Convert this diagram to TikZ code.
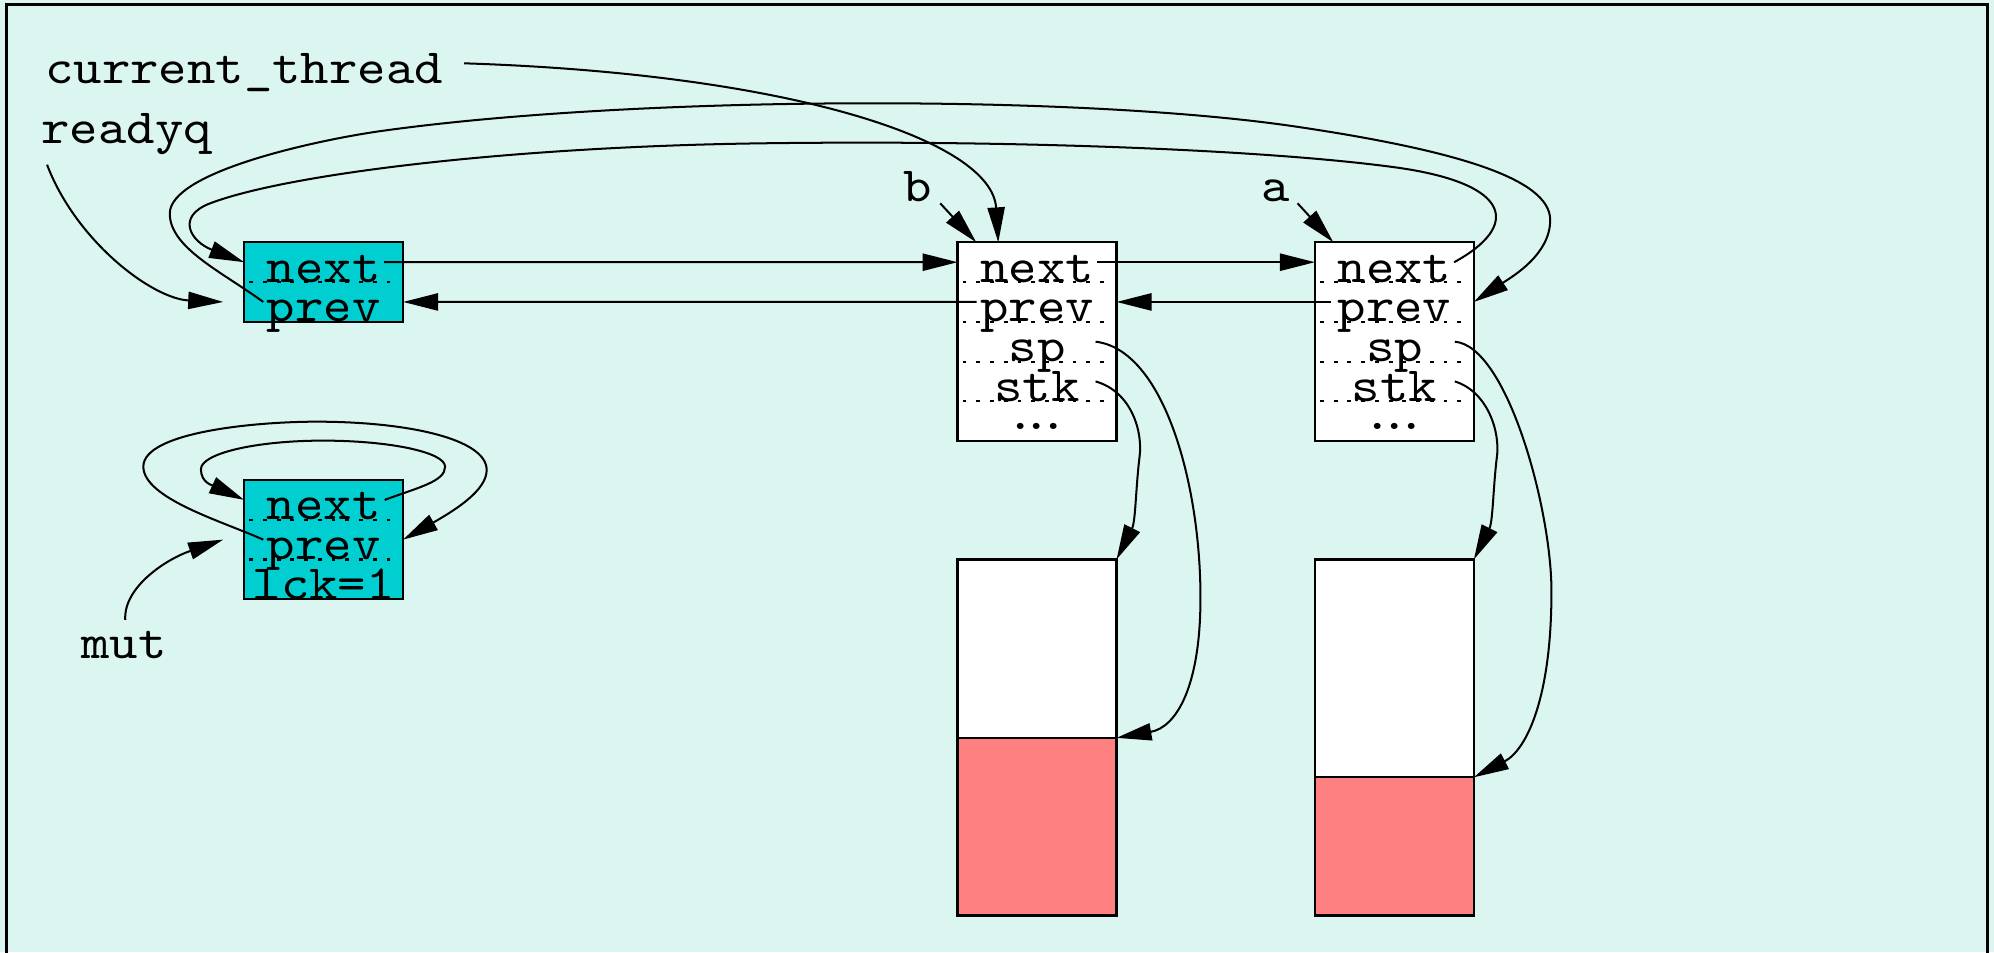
\documentclass[tikz,border=0pt]{standalone}
\usepackage{fontspec}
\usepackage{tikz}
\usetikzlibrary{arrows.meta,positioning,calc}
\newfontfamily\recfont{lmmono10-regular}[Extension=.otf,FakeStretch=1.1]
\newcommand{\rectt}{\recfont\fontsize{11pt}{13pt}\selectfont}
\definecolor{paper}{RGB}{219,245,240}
\definecolor{cellcyan}{RGB}{0,206,209}
\definecolor{stackred}{RGB}{255,128,128}
\tikzset{
    field/.style={
        font=\rectt,
        fill=white,
        minimum width=12.5mm,
        inner sep=0pt,
        outer sep=0pt,
        text height=3.125mm,
        text depth=0pt
    },
    cell/.style={field, fill=cellcyan},
    rec/.style={draw, line width=0.5pt},
    sep/.style={line width=0.45pt, dash pattern=on 0.3mm off 0.78mm,
        shorten <=0.4mm, shorten >=0.5mm},
    tag/.style={font=\rectt, inner sep=0pt},
    stkfree/.style={
        draw,
        line width=0.5pt,
        fill=white,
        minimum width=12.5mm,
        inner sep=0pt,
        outer sep=0pt
    },
    stkused/.style={stkfree, fill=stackred},
    link/.style={-{Triangle[length=2.75mm,width=1.35mm]}, line width=0.45pt}
}

\begin{document}
\begin{tikzpicture}[x=1mm, y=-1mm, node distance=0pt]
    \fill[paper] (0,0) rectangle (156.8,74.9);
    \useasboundingbox (0,0) rectangle (156.8,74.9);
    \draw[line width=0.6pt] (0.52,76) -- (0.52,0.37) -- (156.3,0.37) -- (156.3,76);

    \node[tag, anchor=base west] (cur) at (3.5,6.55) {current\_thread};
    \node[tag, anchor=base west] (readyq) at (3.2,11.3) {readyq};
    \node[tag, anchor=base] (blbl) at (72.2,15.86) {b};
    \node[tag, anchor=base] (albl) at (100.3,15.86) {a};
    \node[tag, anchor=base] (mutlbl) at (9.75,51.75) {mut};

    \node[cell] (qprev) at (25.45,23.745) {prev};
    \node[cell, above=of qprev] (qnext) {next};

    \node[cell] (mlck) at (25.45,45.56) {lck=1};
    \node[cell, above=of mlck] (mprev) {prev};
    \node[cell, above=of mprev] (mnext) {next};

    \node[field, text height=2.225mm, text depth=0.9mm] (bmore) at (81.55,33.12) {.\kern-2.6pt.\kern-2.6pt.};
    \node[field, above=of bmore] (bstk) {stk};
    \node[field, above=of bstk] (bsp) {sp};
    \node[field, above=of bsp] (bprev) {prev};
    \node[field, above=of bprev] (bnext) {next};

    \node[field, text height=2.225mm, text depth=0.9mm] (amore) at (109.65,33.12) {.\kern-2.6pt.\kern-2.6pt.};
    \node[field, above=of amore] (astk) {stk};
    \node[field, above=of astk] (asp) {sp};
    \node[field, above=of asp] (aprev) {prev};
    \node[field, above=of aprev] (anext) {next};

    \draw[sep] (qnext.south west) -- (qnext.south east);
    \draw[rec] (qnext.north west) rectangle (qprev.south east);
    \draw[sep] (mnext.south west) -- (mnext.south east);
    \draw[sep] (mprev.south west) -- (mprev.south east);
    \draw[rec] (mnext.north west) rectangle (mlck.south east);
    \draw[sep] (bnext.south west) -- (bnext.south east);
    \draw[sep] (bprev.south west) -- (bprev.south east);
    \draw[sep] (bsp.south west) -- (bsp.south east);
    \draw[sep] (bstk.south west) -- (bstk.south east);
    \draw[rec] (bnext.north west) rectangle (bmore.south east);
    \draw[sep] (anext.south west) -- (anext.south east);
    \draw[sep] (aprev.south west) -- (aprev.south east);
    \draw[sep] (asp.south west) -- (asp.south east);
    \draw[sep] (astk.south west) -- (astk.south east);
    \draw[rec] (anext.north west) rectangle (amore.south east);

    \node[stkfree, minimum height=14.03mm, below=9.31mm of bmore] (bfree) {};
    \node[stkused, minimum height=13.97mm, below=of bfree] (bused) {};
    \node[stkfree, minimum height=17.13mm, below=9.31mm of amore] (afree) {};
    \node[stkused, minimum height=10.87mm, below=of afree] (aused) {};

    \draw[link] ($(cur.base east)+(1.6,-1.57)$) .. controls (62,5.8) and (78,11) .. ($(bnext.north)+(-3.05,0)$);
    \draw[link] ($(readyq.south west)+(0.5,0.7)$) .. controls (6,19) and (12,23.5) .. ($(qprev.west)+(-1.65,0)$);
    \draw[link] ($(mutlbl.north)+(0.1,-0.8)$) .. controls (9.7,46.2) and (13,44) .. ($(mprev.west)+(-1.65,0)$);
    \draw[link] ($(blbl.base east)+(0.55,0.13)$) -- ($(bnext.north west)+(1.47,0)$);
    \draw[link] ($(albl.base east)+(0.55,0.13)$) -- ($(anext.north west)+(1.45,0)$);

    \draw[link] ($(qnext.east)+(-1.5,0)$) -- (bnext.west);
    \draw[link] ($(bnext.east)+(-1.5,0)$) -- (anext.west);
    \draw[link] ($(aprev.west)+(1.3,0)$) -- (bprev.east);
    \draw[link] ($(bprev.west)+(1.5,0)$) -- (qprev.east);

    \draw[link] ($(anext.east)+(-1.55,0)$) .. controls (119.5,17.8) and (119,14.5) .. (110,13.2)
        .. controls (100,11.8) and (80,11) .. (60,11.27)
        .. controls (40,11.53) and (22.5,13.7) .. (16.5,16)
        .. controls (13.8,17.04) and (15,19) .. (qnext.west);
    \draw[link] ($(qprev.west)+(1.5,0)$) .. controls (17.5,21.4) and (13.35,19.5) .. (13.35,16.8)
        .. controls (13.35,13.5) and (25,11) .. (30,10.3)
        .. controls (50,7.5) and (85,7.4) .. (102.2,10)
        .. controls (114.2,11.8) and (121.9,14) .. (121.9,17.3)
        .. controls (121.9,20) and (119,21.7) .. (aprev.east);

    \draw[link] ($(mnext.east)+(-1.45,0)$) .. controls (33,38.3) and (35,37.85) .. (35,36.7)
        .. controls (35,35.57) and (30.68,34.65) .. (25.4,34.65)
        .. controls (20.12,34.65) and (15.8,35.66) .. (15.8,36.9)
        .. controls (15.8,38) and (16.8,38.2) .. (mnext.west);
    \draw[link] ($(mprev.west)+(1.5,0)$) .. controls (17.5,41) and (11.3,39.2) .. (11.27,36.7)
        .. controls (11.27,34) and (20,33.16) .. (24.9,33.16)
        .. controls (32,33.16) and (38.27,34.5) .. (38.27,36.96)
        .. controls (38.27,38.5) and (36,40) .. (mprev.east);

    \draw[link] ($(bsp.east)+(-1.65,0)$) .. controls (91.5,27.5) and (94.4,38) .. (94.4,47)
        .. controls (94.4,54) and (92.5,57.2) .. (bused.north east);
    \draw[link] ($(bstk.east)+(-1.65,0)$) .. controls (89,30.8) and (89.9,34) .. (89.6,36)
        .. controls (89.3,38.5) and (89.3,41) .. (bfree.north east);
    \draw[link] ($(asp.east)+(-1.5,0)$) .. controls (118.5,27.2) and (122,40) .. (122,46.5)
        .. controls (122,55) and (120,59) .. (aused.north east);
    \draw[link] ($(astk.east)+(-1.5,0)$) .. controls (117,30.8) and (118,34) .. (117.7,36)
        .. controls (117.4,38.5) and (117.4,41) .. (afree.north east);
\end{tikzpicture}
\end{document}
